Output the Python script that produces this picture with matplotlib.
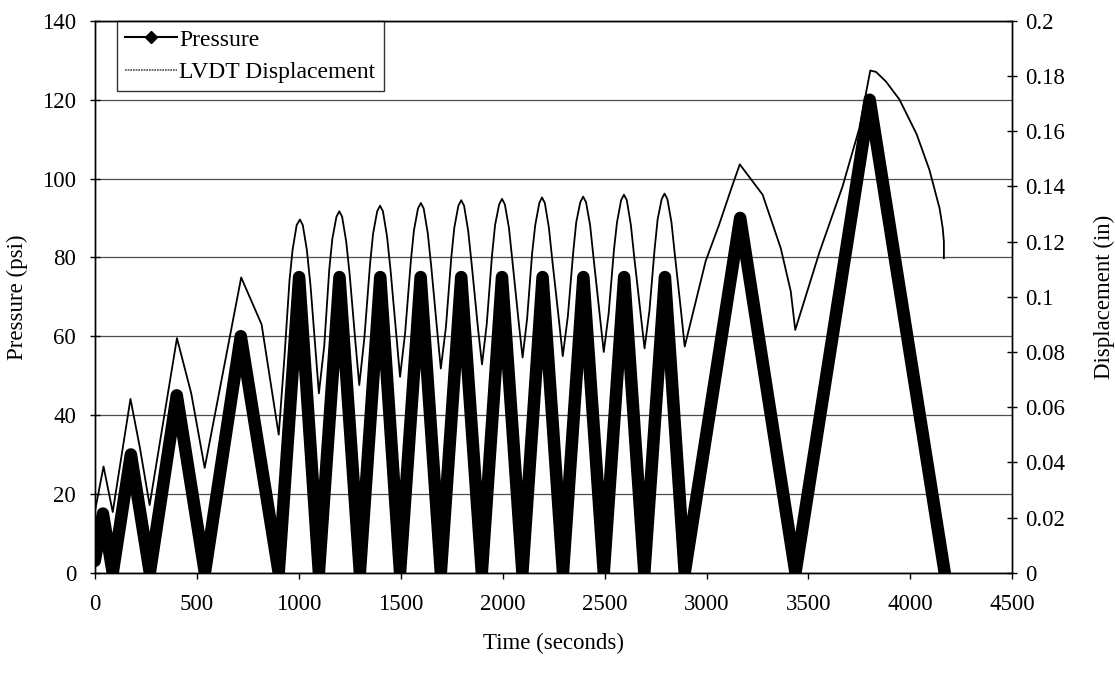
import matplotlib
matplotlib.use("Agg")
import matplotlib.pyplot as plt
from matplotlib.lines import Line2D
from matplotlib.ticker import FuncFormatter

plt.rcParams["font.family"] = ["Liberation Serif", "DejaVu Serif"]

# pressure cycle vertices (seconds, psi)
press_time = [0, 40, 88, 177, 270, 402, 540, 716, 902,
              1002, 1099, 1200, 1300, 1400, 1497, 1598, 1697, 1797, 1898,
              1997, 2097, 2196, 2296, 2396, 2496, 2596, 2695, 2796, 2893,
              3165, 3436, 3800, 4168]
press_psi = [3, 15, 0, 30, 0, 45, 0, 60, 0,
             75, 0, 75, 0, 75, 0, 75, 0, 75, 0,
             75, 0, 75, 0, 75, 0, 75, 0, 75, 0,
             90, 0, 120, 0]

# LVDT displacement (seconds, inches)
disp_time = [0, 43, 88, 175, 222, 269, 403, 473, 539, 718, 818, 902,
             930, 955, 970, 990, 1006, 1020, 1040, 1058, 1085, 1099,
             1125, 1150, 1165, 1185, 1199, 1213, 1233, 1250, 1280, 1297,
             1322, 1350, 1365, 1385, 1399, 1413, 1433, 1450, 1480, 1497,
             1522, 1550, 1565, 1585, 1599, 1613, 1633, 1650, 1680, 1697,
             1722, 1748, 1763, 1783, 1797, 1811, 1831, 1848, 1880, 1899,
             1922, 1948, 1963, 1983, 1997, 2011, 2031, 2048, 2080, 2098,
             2120, 2145, 2160, 2180, 2193, 2207, 2227, 2244, 2277, 2295,
             2320, 2346, 2361, 2381, 2395, 2409, 2429, 2446, 2478, 2496,
             2520, 2546, 2561, 2581, 2595, 2609, 2629, 2646, 2678, 2696,
             2720, 2745, 2760, 2780, 2794, 2808, 2828, 2845, 2876, 2893,
             2996, 3061, 3125, 3163, 3275, 3364, 3413, 3435,
             3553, 3667, 3749, 3803, 3831, 3880, 3946, 4030, 4093, 4143, 4158, 4164, 4164]
disp_in = [0.022, 0.0385, 0.022, 0.063, 0.045, 0.0245, 0.085, 0.065, 0.038, 0.107, 0.090, 0.050,
           0.078, 0.106, 0.117, 0.126, 0.128, 0.126, 0.117, 0.104, 0.078, 0.065,
           0.082, 0.110, 0.121, 0.129, 0.131, 0.129, 0.120, 0.108, 0.082, 0.068,
           0.085, 0.112, 0.123, 0.131, 0.133, 0.131, 0.122, 0.110, 0.085, 0.071,
           0.087, 0.113, 0.124, 0.132, 0.134, 0.132, 0.123, 0.111, 0.087, 0.074,
           0.089, 0.114, 0.125, 0.133, 0.135, 0.133, 0.124, 0.112, 0.088, 0.0755,
           0.090, 0.115, 0.126, 0.1335, 0.1355, 0.1335, 0.125, 0.113, 0.090, 0.078,
           0.092, 0.116, 0.126, 0.134, 0.136, 0.134, 0.125, 0.113, 0.091, 0.0785,
           0.093, 0.116, 0.127, 0.1343, 0.1363, 0.1343, 0.126, 0.114, 0.092, 0.080,
           0.094, 0.117, 0.127, 0.135, 0.137, 0.135, 0.126, 0.114, 0.093, 0.0813,
           0.095, 0.117, 0.128, 0.1354, 0.1374, 0.1354, 0.127, 0.115, 0.094, 0.082,
           0.113, 0.126, 0.140, 0.148, 0.137, 0.1176, 0.102, 0.088,
           0.116, 0.140, 0.161, 0.182, 0.1815, 0.178, 0.1715, 0.159, 0.146, 0.132, 0.125, 0.120, 0.114]

fig = plt.figure(figsize=(11.15, 6.73), dpi=100)
ax = fig.add_axes([0.085, 0.149, 0.823, 0.82])
ax2 = ax.twinx()

ax.plot(press_time, press_psi, color="black", linewidth=9,
        solid_joinstyle="round", solid_capstyle="round", zorder=3)
ax2.plot(disp_time, disp_in, color="black", linewidth=1.3, zorder=3)

ax.set_xlim(0, 4500)
ax.set_ylim(0, 140)
ax2.set_ylim(0, 0.2)
ax.set_xticks(range(0, 4501, 500))
ax.set_yticks(range(0, 141, 20))
ax2.set_yticks([i * 0.02 for i in range(11)])
ax2.yaxis.set_major_formatter(FuncFormatter(lambda v, p: f"{v:g}"))

ax.yaxis.grid(True, color="0.3", linewidth=0.9)
ax.set_axisbelow(True)

fs = 16.5
ax.tick_params(axis="both", direction="inout", length=7, width=1, labelsize=fs, pad=10)
ax.tick_params(axis="x", direction="out", length=4, pad=11)
ax2.tick_params(axis="y", direction="inout", length=7, width=1, labelsize=fs, pad=6)
for sp in list(ax.spines.values()) + list(ax2.spines.values()):
    sp.set_linewidth(1)

ax.set_xlabel("Time (seconds)", fontsize=fs, labelpad=13)
ax.set_ylabel("Pressure (psi)", fontsize=fs, labelpad=10)
ax2.set_ylabel("Displacement (in)", fontsize=fs, labelpad=20)

handles = [
    Line2D([], [], color="black", linewidth=1.5, marker="D", markersize=6),
    Line2D([], [], color="0.3", linewidth=1.2, linestyle=(0, (1, 0.6))),
]
leg = ax.legend(handles, ["Pressure", "LVDT Displacement"], loc="upper left",
                bbox_to_anchor=(0.024, 1.0), borderaxespad=0, fontsize=17,
                frameon=True, fancybox=False, handlelength=2.2,
                handletextpad=0.1, borderpad=0.35, labelspacing=0.45)
leg.get_frame().set_edgecolor("black")
leg.get_frame().set_linewidth(1)
leg.set_zorder(5)

fig.savefig("out.png", dpi=100)
